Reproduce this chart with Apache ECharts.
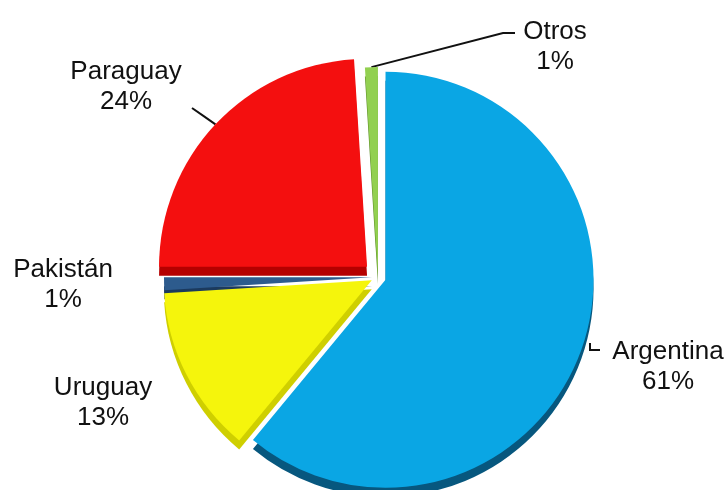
<!DOCTYPE html>
<html><head><meta charset="utf-8">
<script src="https://cdn.jsdelivr.net/npm/echarts@6/dist/echarts.min.js"></script>
<style>html,body{margin:0;padding:0;background:#fff}#c{width:728px;height:490px}</style>
</head><body><div id="c"></div>
<script>
const categories = ['Argentina', 'Uruguay', 'Pakistán', 'Paraguay', 'Otros'];
const values = [61, 13, 1, 24, 1];

const topColors = ['#0aa6e4', '#f5f50c', '#2d5b8d', '#f40f0f', '#92d050'];
const sideColors = ['#07577e', '#cfcf00', '#1b3a5e', '#b50000', '#5f8f2a'];
const explode = [8, 7, 6, 15, 2];
const labelPos = [[668, 367], [103, 403], [63, 285], [126, 87], [555, 47]];
const showLine = [true, false, false, true, true];
const center = [378, 277];
const radius = 208;
const depth = 9;

// direction in which a slice is pulled out (its mid angle, clockwise from 12 o'clock)
function sliceDir(idx) {
  const total = values.reduce((s, v) => s + v, 0);
  let before = 0;
  for (let i = 0; i < idx; i++) before += values[i];
  const mid = (before + values[idx] / 2) / total * Math.PI * 2;
  return [Math.sin(mid), -Math.cos(mid)];
}

// label-line bends, relative to the label centre
function linePoints(idx, a, cx, cy) {
  if (idx === 0) return [[cx - 78, cy - 24], [cx - 78, cy - 17], [cx - 68, cy - 17]];
  if (idx === 3) return [a, [(a[0] + cx + 66) / 2, (a[1] + cy + 21) / 2], [cx + 66, cy + 21]];
  if (idx === 4) return [a, [cx - 52, cy - 14], [cx - 40, cy - 14]];
  return null;
}

function makeSeries(idx, side) {
  return {
    type: 'pie', silent: true, animation: false,
    startAngle: 90, clockwise: true,
    center: side ? [center[0], center[1] + depth] : center,
    radius: radius,
    selectedMode: 'multiple', selectedOffset: explode[idx],
    z: side ? 1 : 2,
    itemStyle: { borderWidth: 0 },
    data: categories.map((name, i) => ({
      name: name, value: values[i], selected: i === idx,
      itemStyle: { borderWidth: 0, color: i === idx ? (side ? sideColors[idx] : topColors[idx]) : 'rgba(0,0,0,0)' },
      label: { show: !side && i === idx },
      labelLine: { show: !side && i === idx && showLine[idx] }
    })),
    label: {
      formatter: p => '{t|' + p.name + '}\n{t|' + p.value + '%}',
      color: '#111',
      width: 130,
      rich: {
        t: { width: 130, align: 'center', fontSize: 26, lineHeight: 30, color: '#111',
             fontFamily: 'Liberation Sans, Arial, sans-serif' }
      }
    },
    labelLine: { lineStyle: { color: '#111', width: 2 }, length: 10, length2: 10 },
    labelLayout: function (p) {
      if (p.dataIndex !== idx) return {};
      const r = p.labelRect;
      const d = sliceDir(idx);
      const ox = d[0] * explode[idx], oy = d[1] * explode[idx];
      // target positions in the slice's own (pre-offset) frame
      const cx = labelPos[idx][0] - ox, cy = labelPos[idx][1] - oy;
      const out = {
        dx: cx - (r.x + r.width / 2),
        dy: cy - (r.y + r.height / 2)
      };
      if (showLine[idx] && p.labelLinePoints) {
        out.labelLinePoints = linePoints(idx, p.labelLinePoints[0], cx, cy);
      }
      return out;
    },
    emphasis: { disabled: true },
    select: { itemStyle: {} }
  };
}

const series = [];
categories.forEach((c, i) => series.push(makeSeries(i, true)));
categories.forEach((c, i) => series.push(makeSeries(i, false)));

const chart = echarts.init(document.getElementById('c'), null, { renderer: 'canvas' });
chart.setOption({ backgroundColor: '#fff', animation: false, series: series });
</script></body></html>
